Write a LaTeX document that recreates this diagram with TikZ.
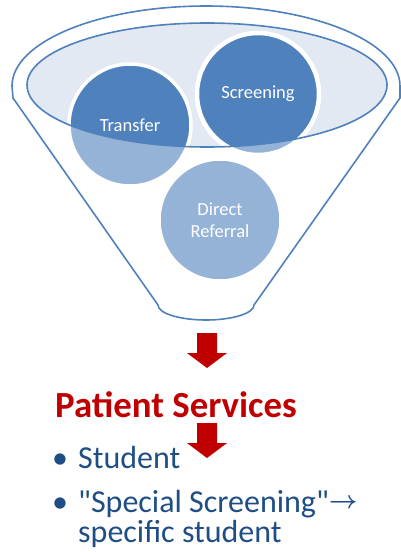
\documentclass[tikz,border=0pt]{standalone}
\usepackage{fontspec}
\setmainfont{Carlito}[Ligatures=TeXOff]
\definecolor{funnelblue}{HTML}{4F81BD}
\definecolor{rimfill}{HTML}{E3E9F3}
\definecolor{sgred}{HTML}{C00000}
\definecolor{listblue}{HTML}{1F4E87}
\newcommand\listfont{\fontsize{32}{30}\selectfont\lineskiplimit=-20pt\relax}
\tikzset{
  bubble/.style={circle, minimum size=122pt, inner sep=0pt, fill=funnelblue, draw=white,
    line width=3.5pt, text=white, align=center, font=\fontsize{18.5}{21.5}\selectfont},
  listtext/.style={text=listblue, anchor=base west, inner sep=0pt, align=left, font=\listfont},
}

\begin{document}
\begin{tikzpicture}[x=1pt, y=-1pt]
  \useasboundingbox (0,0) rectangle (401,552);
  \fill[rimfill] (207,85) ellipse [x radius=180, y radius=62];
  \node[bubble] (transfer) at (130,125) {Transfer};
  \node[bubble, line width=4.5pt] (screening) at (258,94) {Screening};
  \node[bubble] (referral) at (220,220) {Direct\\Referral};
  \draw[funnelblue, line width=1.6pt, fill=white, fill opacity=0.4, even odd rule]
    (158,305) -- (13,98) -- (12,86) arc[start angle=180, end angle=360, x radius=194, y radius=80]
    -- (400,98) -- (254,305) arc[start angle=0, end angle=180, x radius=48, y radius=15] -- cycle
    (207,85) ellipse [x radius=180, y radius=62];
  \foreach \y in {333,423}{
    \fill[sgred] (197,\y) -- (217,\y) -- (217,\y+20) -- (227,\y+20) -- (207,\y+35)
      -- (187,\y+20) -- (197,\y+20) -- cycle;
  }
  \node[text=sgred, anchor=base west, inner sep=0pt, font=\bfseries\fontsize{36.8}{40}\selectfont]
    (services) at (55,417) {Patient Services};
  \node[listtext, anchor=base] (dot1) at (60,468) {•};
  \node[listtext] (student) at (78,468) {Student};
  \node[listtext, anchor=base] (dot2) at (60,512) {•};
  \node[listtext] (special) at (78,542)
    {"Special Screening"\raisebox{4pt}{\boldmath$\rightarrow$}\\specific student};
\end{tikzpicture}
\end{document}
